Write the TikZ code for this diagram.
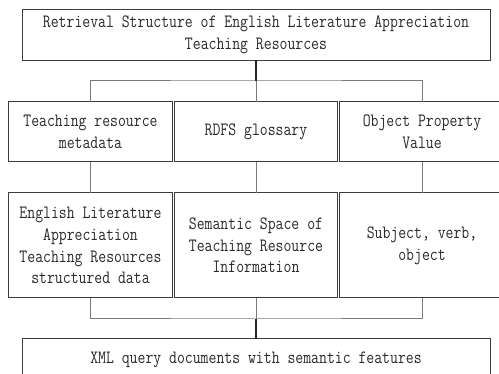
\documentclass[tikz,border=0pt]{standalone}
\usepackage{fontspec}
\newfontfamily\diagfont[FakeStretch=0.815]{Latin Modern Mono}
\definecolor{boxgray}{HTML}{3C3C3C}
\definecolor{linegray}{HTML}{7A7A7A}
\definecolor{txtgray}{HTML}{2A2A2A}
\begin{document}
\begin{tikzpicture}[x=1pt,y=-1pt,
  box/.style={draw=boxgray, line width=1pt, fill=white, rectangle, inner sep=0pt, outer sep=0pt,
    font=\diagfont\fontsize{18.8}{21.7}\selectfont, align=center, text=txtgray},
  branch/.style={draw=linegray, line width=1pt},
  trunk/.style={draw=black!85, line width=1.3pt}]
\useasboundingbox (0,0) rectangle (499,374);
\clip (0,0) rectangle (499,374);
\fill[white] (0,0) rectangle (499,374);
% top
\node[box, minimum width=468pt, minimum height=51pt] (top) at (256,34.6)
  {Retrieval Structure of English Literature Appreciation\\Teaching Resources};
% row 2
\node[box, minimum width=164pt, minimum height=60pt] (meta) at (90.5,132)
  {Teaching resource\\metadata};
\node[box, minimum width=163pt, minimum height=60pt] (rdfs) at (256,132)
  {RDFS glossary};
\node[box, minimum width=165pt, minimum height=60pt] (opv) at (422,132)
  {Object Property\\Value};
% row 3
\node[box, minimum width=164pt, minimum height=105pt] (data) at (90.5,245.5)
  {English Literature\\Appreciation\\Teaching Resources\\structured data};
\node[box, minimum width=163pt, minimum height=105pt] (space) at (256,245.5)
  {Semantic Space of\\Teaching Resource\\Information};
\node[box, minimum width=165pt, minimum height=105pt] (svo) at (422,245.5)
  {Subject, verb,\\object};
% bottom
\node[box, minimum width=468pt, minimum height=42pt] (xml) at (256,360)
  {XML query documents with semantic features};
% junctions
\coordinate (jt) at (256,81);
\coordinate (jb) at (256,319);
\draw[branch] (meta.north) |- (jt) -| (opv.north);
\draw[branch] (rdfs.north) -- (jt);
\draw[trunk] (top.south) -- (jt);
\draw[branch] (meta.south) -- (data.north);
\draw[branch] (rdfs.south) -- (space.north);
\draw[branch] (opv.south) -- (svo.north);
\draw[branch] (data.south) |- (jb) -| (svo.south);
\draw[branch] (space.south) -- (jb);
\draw[trunk] (jb) -- (xml.north);
\end{tikzpicture}
\end{document}
